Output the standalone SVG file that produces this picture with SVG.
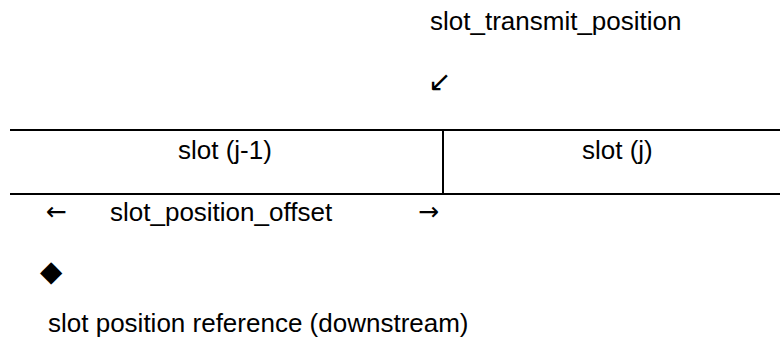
<svg xmlns="http://www.w3.org/2000/svg" width="780" height="349" viewBox="0 0 780 349">
<style>
  .t { font-family: "Liberation Sans", Arial, "DejaVu Sans", sans-serif; font-size: 26px; fill: #000; }
  .sym { font-family: "DejaVu Sans", "Liberation Sans", sans-serif; fill: #000; }
  .arr { font-family: "DejaVu Sans", "Liberation Sans", sans-serif; font-size: 25px; fill: #000; }
  .ln { stroke: #000; stroke-width: 2; fill: none; }
</style>
<rect width="780" height="349" fill="#fff"/>
<g id="connectors">
  <line class="ln" x1="10" y1="130" x2="780" y2="130"/>
  <line class="ln" x1="10" y1="194" x2="780" y2="194"/>
  <line class="ln" x1="443" y1="130" x2="443" y2="194"/>
</g>
<g id="transmit">
  <text class="t" x="430" y="30">slot_transmit_position</text>
  <text class="sym" x="428" y="91" font-size="28">↙</text>
</g>
<g id="slot_j_1">
  <text class="t" x="178" y="159">slot (j-1)</text>
</g>
<g id="slot_j">
  <text class="t" x="582" y="159">slot (j)</text>
</g>
<g id="offset">
  <text class="arr" x="46" y="220">←</text>
  <text class="t" x="110" y="221">slot_position_offset</text>
  <text class="arr" x="418" y="220">→</text>
</g>
<g id="reference">
  <text class="sym" x="40" y="281" font-size="29">◆</text>
  <text class="t" x="48" y="332">slot position reference (downstream)</text>
</g>
</svg>
